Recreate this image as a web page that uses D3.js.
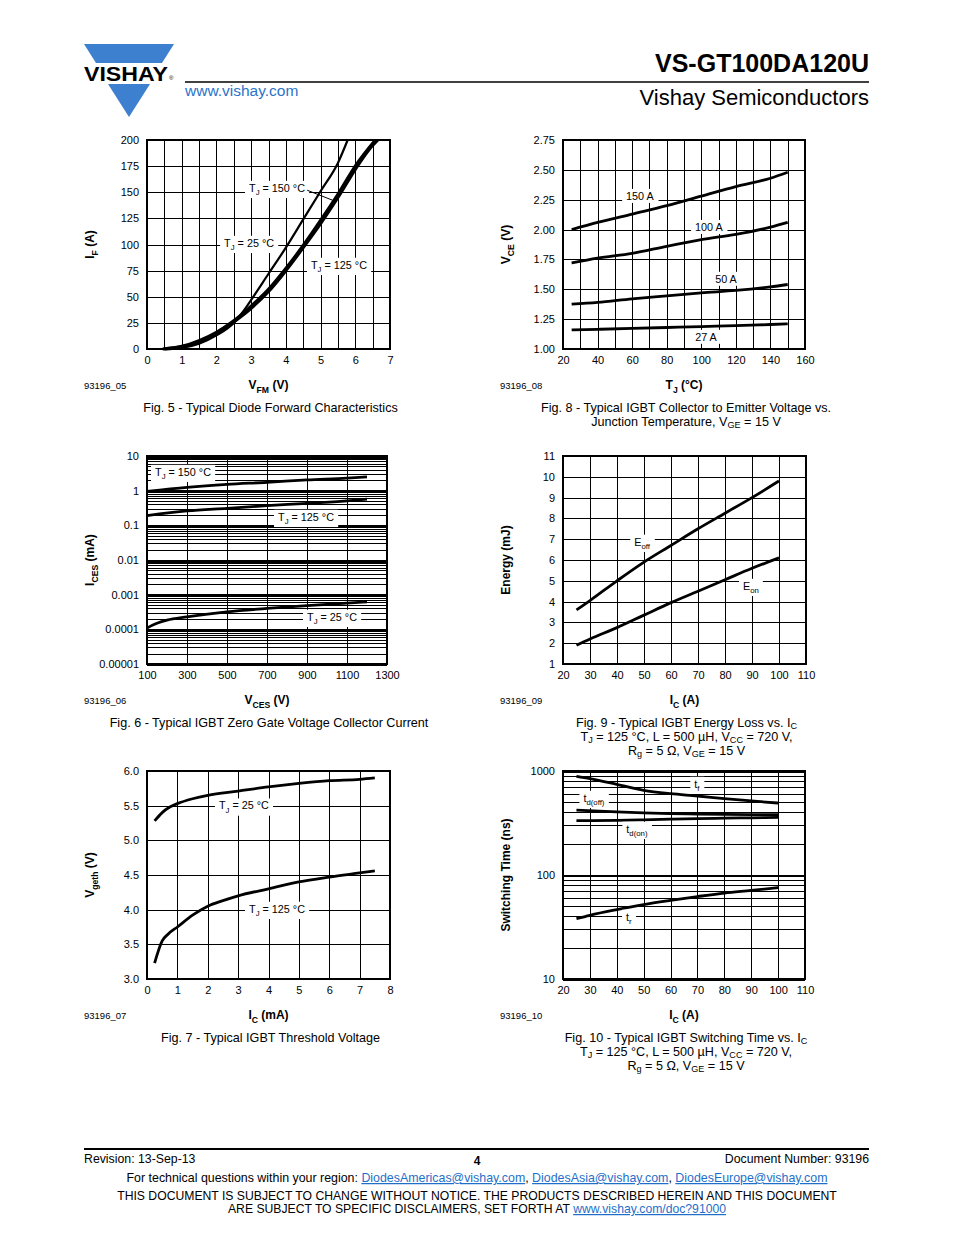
<!DOCTYPE html>
<html><head><meta charset="utf-8">
<script src="https://cdn.jsdelivr.net/npm/d3@7"></script>
<style>html,body{margin:0;padding:0;background:#fff;}svg{display:block;}</style>
</head><body>
<script>
// ---------------- DATA ----------------
// Fig 5 - diode forward characteristics (V, A)
const fig5Tj25  = [[0.5,0],[1,1],[1.5,5],[2,13],[2.5,25],[2.75,35],[3,47],[3.5,72],[4,97],[4.5,124],[5,151],[5.5,178],[5.78,200]];
const fig5Tj125 = [[0.5,0],[1,2],[1.5,7],[2,15],[2.5,26],[3,39],[3.5,55],[4,75],[4.5,97],[5,120],[5.5,145],[6,172],[6.4,191],[6.65,200]];
const fig5Tj150 = [[0.45,0],[1,2.5],[1.5,8],[2,16],[2.5,27],[3,41],[3.5,57],[4,77],[4.5,99],[5,123],[5.5,148],[6,175],[6.58,200]];
const fig5XTicks = [0,1,2,3,4,5,6,7];
const fig5XGrid = [0,0.5,1,1.5,2,2.5,3,3.5,4,4.5,5,5.5,6,6.5,7];
const fig5YTicks = [0,25,50,75,100,125,150,175,200];

// Fig 8 - VCE vs TJ (°C, V)
const fig8A150 = [[25,2.00],[40,2.06],[60,2.13],[80,2.20],[100,2.28],[120,2.36],[140,2.43],[150,2.48]];
const fig8A100 = [[25,1.72],[40,1.76],[60,1.80],[80,1.86],[100,1.915],[120,1.96],[140,2.02],[150,2.06]];
const fig8A50  = [[25,1.375],[40,1.39],[60,1.42],[80,1.445],[100,1.47],[120,1.49],[140,1.52],[150,1.54]];
const fig8A27  = [[25,1.16],[40,1.165],[60,1.172],[80,1.18],[100,1.188],[120,1.195],[140,1.205],[150,1.21]];
const fig8XTicks = [20,40,60,80,100,120,140,160];
const fig8XGrid = [20,30,40,50,60,70,80,90,100,110,120,130,140,150,160];
const fig8YTicks = [1.00,1.25,1.50,1.75,2.00,2.25,2.50,2.75];

// Fig 6 - ICES vs VCES (V, mA)
const fig6Tj150 = [[100,0.95],[300,1.25],[500,1.52],[700,1.74],[900,2.05],[1100,2.3],[1200,2.5]];
const fig6Tj125 = [[100,0.19],[300,0.26],[500,0.31],[700,0.37],[900,0.43],[1100,0.51],[1200,0.57]];
const fig6Tj25  = [[100,0.00011],[150,0.00015],[200,0.000185],[300,0.00023],[500,0.00032],[700,0.0004],[900,0.00048],[1100,0.00057],[1200,0.00062]];
const fig6XTicks = [100,300,500,700,900,1100,1300];
const fig6YTicks = [0.00001,0.0001,0.001,0.01,0.1,1,10];
const fig6YLabels = ["0.00001","0.0001","0.001","0.01","0.1","1","10"];

// Fig 9 - energy loss vs IC (A, mJ)
const fig9Eoff = [[25,3.6],[30,4.05],[40,5.0],[50,5.9],[60,6.7],[70,7.5],[80,8.25],[90,9.0],[100,9.8]];
const fig9Eon  = [[25,1.9],[30,2.2],[40,2.75],[50,3.35],[60,3.95],[70,4.5],[80,5.05],[90,5.6],[100,6.1]];
const fig9XTicks = [20,30,40,50,60,70,80,90,100,110];
const fig9YTicks = [1,2,3,4,5,6,7,8,9,10,11];

// Fig 7 - threshold voltage vs IC (mA, V)
const fig7Tj25  = [[0.25,5.28],[0.5,5.4],[0.75,5.48],[1,5.53],[1.5,5.6],[2,5.65],[3,5.71],[4,5.77],[5,5.82],[6,5.86],[7,5.88],[7.5,5.9]];
const fig7Tj125 = [[0.25,3.23],[0.5,3.55],[0.7,3.65],[1,3.75],[1.5,3.92],[2,4.05],[2.5,4.13],[3,4.2],[4,4.3],[5,4.4],[6,4.47],[7,4.53],[7.5,4.56]];
const fig7XTicks = [0,1,2,3,4,5,6,7,8];
const fig7YTicks = [3.0,3.5,4.0,4.5,5.0,5.5,6.0];

// Fig 10 - switching time vs IC (A, ns)
const fig10Tf    = [[25,889],[30,845],[40,745],[50,652],[60,605],[70,575],[80,542],[90,515],[100,492]];
const fig10TdOff = [[25,420],[40,404],[50,396],[60,390],[70,386],[80,383],[90,381],[100,380]];
const fig10TdOn  = [[25,333],[40,335],[50,339],[60,344],[70,349],[80,352],[90,355],[100,358]];
const fig10Tr    = [[25,38],[30,41],[40,46.5],[50,52],[60,57],[70,62],[80,67],[90,71],[100,75.5]];
const fig10XTicks = [20,30,40,50,60,70,80,90,100,110];
const fig10YTicks = [10,100,1000];

// ---------------- DRAWING ----------------
const FONT = "'Liberation Sans', Arial, Helvetica, sans-serif";
const svg = d3.select('body').append('svg').attr('width',954).attr('height',1235)
  .style('font-family', FONT);
svg.append('rect').attr('width',954).attr('height',1235).attr('fill','#fff');

function rich(t, str, size, shiftK) {
  const parts = str.split(/(_\{[^}]*\})/).filter(s => s.length);
  let inSub = false;
  const shift = size * (shiftK == null ? 0.3 : shiftK);
  parts.forEach(p => {
    if (p.startsWith('_{')) {
      t.append('tspan').text(p.slice(2,-1)).attr('font-size', size*0.72).attr('dy', shift);
      inSub = true;
    } else {
      const ts = t.append('tspan').text(p).attr('font-size', size);
      if (inSub) { ts.attr('dy', -shift); inSub = false; }
    }
  });
  return t;
}

function boxedLabel(g, cx, cy, str, size) {
  const t = g.append('text').attr('x', cx).attr('y', cy + size*0.35)
    .attr('text-anchor','middle').attr('fill','#000');
  rich(t, str, size);
  const bb = t.node().getBBox();
  g.insert('rect', () => t.node()).attr('x', bb.x - 4).attr('y', bb.y - 1)
    .attr('width', bb.width + 8).attr('height', bb.height + 2).attr('fill','#fff');
  return bb;
}

function chart(cfg) {
  const g = svg.append('g');
  const x = d3.scaleLinear().domain(cfg.xDomain).range([cfg.left, cfg.right]);
  const y = (cfg.log ? d3.scaleLog() : d3.scaleLinear()).domain(cfg.yDomain).range([cfg.bottom, cfg.top]);
  const w = cfg.right - cfg.left, h = cfg.bottom - cfg.top;

  const gx = g.append('g').attr('transform', `translate(0,${cfg.bottom})`)
    .call(d3.axisBottom(x).tickValues(cfg.xGrid).tickSize(-h).tickFormat(''));
  const yGridVals = cfg.log ? y.ticks() : cfg.yGrid;
  const gy = g.append('g').attr('transform', `translate(${cfg.left},0)`)
    .call(d3.axisLeft(y).tickValues(yGridVals).tickSize(-w).tickFormat(''));
  [gx, gy].forEach(a => {
    a.select('.domain').remove();
    a.selectAll('line').attr('stroke','#000').attr('stroke-width',1).attr('shape-rendering','crispEdges');
  });
  if (cfg.log) {
    gy.selectAll('.tick').filter(d => Math.abs(Math.log10(d) - Math.round(Math.log10(d))) < 1e-9)
      .select('line').attr('stroke-width', 2);
  }

  const line = d3.line().x(d => x(d[0])).y(d => y(d[1])).curve(d3.curveMonotoneX);
  cfg.series.forEach(s => {
    g.append('path').datum(s.data).attr('d', line).attr('fill','none')
      .attr('stroke','#000').attr('stroke-width', s.width || 2.8)
      .attr('stroke-linejoin','round').attr('stroke-linecap','butt');
  });

  (cfg.labels || []).forEach(l => {
    const bb = boxedLabel(g, x(l.at[0]), y(l.at[1]), l.text, 10.8);
    if (l.leader) {
      g.append('line').attr('x1', bb.x + bb.width + 2).attr('y1', bb.y + bb.height*0.55)
        .attr('x2', x(l.leader[0])).attr('y2', y(l.leader[1]))
        .attr('stroke','#000').attr('stroke-width',1);
    }
  });

  g.append('rect').attr('x', cfg.left).attr('y', cfg.top).attr('width', w).attr('height', h)
    .attr('fill','none').attr('stroke','#000').attr('stroke-width', 2);

  const ax = g.append('g').attr('transform', `translate(0,${cfg.bottom})`)
    .call(d3.axisBottom(x).tickValues(cfg.xTicks).tickSize(0).tickPadding(7).tickFormat(cfg.xFmt || (d => d)));
  const ay = g.append('g').attr('transform', `translate(${cfg.left},0)`)
    .call(d3.axisLeft(y).tickValues(cfg.yTicks).tickSize(0).tickPadding(8).tickFormat(cfg.yFmt || (d => d)));
  [ax, ay].forEach(a => {
    a.select('.domain').remove();
    a.selectAll('text').attr('font-family', FONT).attr('font-size', 11).attr('fill','#000');
  });

  const cy = (cfg.top + cfg.bottom) / 2;
  const yt = g.append('text').attr('transform', `translate(${cfg.left - 53},${cy}) rotate(-90)`)
    .attr('text-anchor','middle').attr('font-weight','bold');
  rich(yt, cfg.yTitle, 12);
  const cx = (cfg.left + cfg.right) / 2;
  const xt = g.append('text').attr('x', cx).attr('y', cfg.bottom + 40)
    .attr('text-anchor','middle').attr('font-weight','bold');
  rich(xt, cfg.xTitle, 12);
  g.append('text').attr('x', cfg.left - 63).attr('y', cfg.bottom + 40).attr('font-size', 9.5).text(cfg.id);
  cfg.caption.forEach((c, i) => {
    const t = g.append('text').attr('x', cx + 2).attr('y', cfg.bottom + 63 + i*14).attr('text-anchor','middle');
    rich(t, c, 12.6, 0.17);
  });
}

// Header
svg.append('polygon').attr('points','84,44 174,44 162,63 96,63').attr('fill','#3d80cf');
svg.append('polygon').attr('points','108,84 150,84 129,117').attr('fill','#3d80cf');
svg.append('text').attr('x',84).attr('y',81).attr('font-size',21).attr('font-weight','bold')
  .attr('textLength',84).attr('lengthAdjust','spacingAndGlyphs').text('VISHAY');
svg.append('text').attr('x',169).attr('y',80).attr('font-size',6).text('®');
svg.append('text').attr('x',869).attr('y',72).attr('text-anchor','end').attr('font-size',25)
  .attr('font-weight','bold').text('VS-GT100DA120U');
svg.append('line').attr('x1',185).attr('x2',869).attr('y1',82).attr('y2',82).attr('stroke','#000').attr('stroke-width',1.6);
svg.append('text').attr('x',185).attr('y',96).attr('font-size',15.5).attr('fill','#2a74c9').text('www.vishay.com');
svg.append('text').attr('x',869).attr('y',105).attr('text-anchor','end').attr('font-size',22).text('Vishay Semiconductors');

// Charts
chart({left:147,right:390,top:140,bottom:349,xDomain:[0,7],yDomain:[0,200],
  xGrid:fig5XGrid,yGrid:fig5YTicks,xTicks:fig5XTicks,yTicks:fig5YTicks,
  series:[{data:fig5Tj125,width:3.2},{data:fig5Tj150,width:3.2},{data:fig5Tj25,width:2.2}],
  labels:[{at:[3.745,154],text:'T_{J} = 150 °C',leader:[5.45,141]},{at:[2.94,101.4],text:'T_{J} = 25 °C'},{at:[5.53,80.4],text:'T_{J} = 125 °C'}],
  yTitle:'I_{F} (A)',xTitle:'V_{FM} (V)',id:'93196_05',caption:['Fig. 5 - Typical Diode Forward Characteristics']});

chart({left:563,right:805,top:140,bottom:349,xDomain:[20,160],yDomain:[1,2.75],
  xGrid:fig8XGrid,yGrid:fig8YTicks,xTicks:fig8XTicks,yTicks:fig8YTicks,yFmt:d3.format('.2f'),
  series:[{data:fig8A150},{data:fig8A100},{data:fig8A50},{data:fig8A27}],
  labels:[{at:[64.5,2.28],text:'150 A'},{at:[104.4,2.02],text:'100 A'},{at:[114.3,1.586],text:'50 A'},{at:[102.7,1.10],text:'27 A'}],
  yTitle:'V_{CE} (V)',xTitle:'T_{J} (°C)',id:'93196_08',
  caption:['Fig. 8 - Typical IGBT Collector to Emitter Voltage vs.','Junction Temperature, V_{GE} = 15 V']});

chart({left:147,right:387,top:456,bottom:664,xDomain:[100,1300],yDomain:[0.00001,10],log:true,
  xGrid:fig6XTicks,xTicks:fig6XTicks,yTicks:fig6YTicks,yFmt:(d,i)=>fig6YLabels[i],
  series:[{data:fig6Tj150},{data:fig6Tj125},{data:fig6Tj25}],
  labels:[{at:[280,3.45],text:'T_{J} = 150 °C'},{at:[895,0.174],text:'T_{J} = 125 °C'},{at:[1025,0.000227],text:'T_{J} = 25 °C'}],
  yTitle:'I_{CES} (mA)',xTitle:'V_{CES} (V)',id:'93196_06',
  caption:['Fig. 6 - Typical IGBT Zero Gate Voltage Collector Current']});

chart({left:563,right:806,top:456,bottom:664,xDomain:[20,110],yDomain:[1,11],
  xGrid:fig9XTicks,yGrid:fig9YTicks,xTicks:fig9XTicks,yTicks:fig9YTicks,
  series:[{data:fig9Eoff},{data:fig9Eon}],
  labels:[{at:[49.3,6.87],text:'E_{off}'},{at:[89.6,4.75],text:'E_{on}'}],
  yTitle:'Energy (mJ)',xTitle:'I_{C} (A)',id:'93196_09',
  caption:['Fig. 9 - Typical IGBT Energy Loss vs. I_{C}','T_{J} = 125 °C, L = 500 µH, V_{CC} = 720 V,','R_{g} = 5 Ω, V_{GE} = 15 V']});

chart({left:147,right:390,top:771,bottom:979,xDomain:[0,8],yDomain:[3,6],
  xGrid:fig7XTicks,yGrid:fig7YTicks,xTicks:fig7XTicks,yTicks:fig7YTicks,yFmt:d3.format('.1f'),
  series:[{data:fig7Tj25},{data:fig7Tj125}],
  labels:[{at:[3.19,5.50],text:'T_{J} = 25 °C'},{at:[4.28,4.01],text:'T_{J} = 125 °C'}],
  yTitle:'V_{geth} (V)',xTitle:'I_{C} (mA)',id:'93196_07',
  caption:['Fig. 7 - Typical IGBT Threshold Voltage']});

chart({left:563,right:805,top:771,bottom:979,xDomain:[20,110],yDomain:[10,1000],log:true,
  xGrid:fig10XTicks,xTicks:fig10XTicks,yTicks:fig10YTicks,
  series:[{data:fig10Tf},{data:fig10TdOff},{data:fig10TdOn},{data:fig10Tr}],
  labels:[{at:[69.8,750],text:'t_{f}'},{at:[31.5,550],text:'t_{d(off)}'},{at:[47.5,277],text:'t_{d(on)}'},{at:[44.5,39.5],text:'t_{r}'}],
  yTitle:'Switching Time (ns)',xTitle:'I_{C} (A)',id:'93196_10',
  caption:['Fig. 10 - Typical IGBT Switching Time vs. I_{C}','T_{J} = 125 °C, L = 500 µH, V_{CC} = 720 V,','R_{g} = 5 Ω, V_{GE} = 15 V']});

// Footer
svg.append('line').attr('x1',84).attr('x2',869).attr('y1',1149).attr('y2',1149).attr('stroke','#000').attr('stroke-width',2);
svg.append('text').attr('x',84).attr('y',1163).attr('font-size',12.3).text('Revision: 13-Sep-13');
svg.append('text').attr('x',477).attr('y',1165).attr('font-size',12).attr('font-weight','bold').attr('text-anchor','middle').text('4');
svg.append('text').attr('x',869).attr('y',1163).attr('font-size',12.3).attr('text-anchor','end').text('Document Number: 93196');
const f2 = svg.append('text').attr('x',477).attr('y',1182).attr('font-size',12.4).attr('text-anchor','middle');
const linkParts = [['For technical questions within your region: ',false],['DiodesAmericas@vishay.com',true],[', ',false],
  ['DiodesAsia@vishay.com',true],[', ',false],['DiodesEurope@vishay.com',true]];
linkParts.forEach(([t,l]) => {
  const ts = f2.append('tspan').text(t);
  if (l) ts.attr('fill','#1f6fc8').attr('text-decoration','underline');
});
svg.append('text').attr('x',477).attr('y',1200).attr('font-size',12.2).attr('text-anchor','middle')
  .text('THIS DOCUMENT IS SUBJECT TO CHANGE WITHOUT NOTICE. THE PRODUCTS DESCRIBED HEREIN AND THIS DOCUMENT');
const f4 = svg.append('text').attr('x',477).attr('y',1213).attr('font-size',12.2).attr('text-anchor','middle');
f4.append('tspan').text('ARE SUBJECT TO SPECIFIC DISCLAIMERS, SET FORTH AT ');
f4.append('tspan').text('www.vishay.com/doc?91000').attr('fill','#1f6fc8').attr('text-decoration','underline');
</script>
</body></html>
